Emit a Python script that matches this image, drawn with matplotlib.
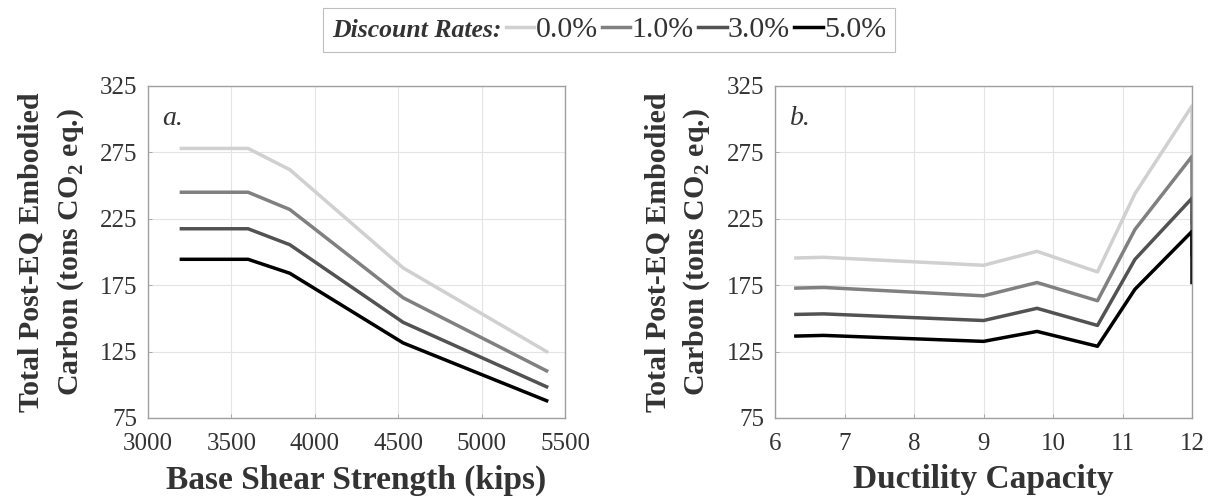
import matplotlib
matplotlib.use("Agg")
import matplotlib.pyplot as plt
from matplotlib.lines import Line2D

plt.rcParams['font.family'] = ['Liberation Serif', 'DejaVu Serif']
plt.rcParams['mathtext.fontset'] = 'custom'
plt.rcParams['mathtext.rm'] = 'Liberation Serif'
plt.rcParams['mathtext.bf'] = 'Liberation Serif:bold'

rates = ["0.0%", "1.0%", "3.0%", "5.0%"]
colors = ["#d0d0d0", "#808080", "#525252", "#000000"]

# Panel a: base shear strength (kips)
shear = [3200, 3600, 3850, 4530, 5390]
carbon_a = {
    "0.0%": [278, 278, 262, 188, 125],
    "1.0%": [245, 245, 232, 165.5, 110.5],
    "3.0%": [217.5, 217.5, 205.5, 147, 98.5],
    "5.0%": [194.5, 194.5, 184, 131.5, 88],
}

# Panel b: ductility capacity
ductility = [6.3, 6.7, 9.0, 9.77, 10.64, 11.18, 12.0, 12.0]
carbon_b = {
    "0.0%": [195.5, 196, 190, 200.5, 185, 244, 310, 253],
    "1.0%": [172.8, 173.3, 167, 177, 163.3, 217, 272, 222],
    "3.0%": [153, 153.4, 148.4, 157.6, 144.7, 194.5, 240.5, 198],
    "5.0%": [136.7, 137.2, 132.7, 140.2, 129, 172, 215.5, 177],
}

fig = plt.figure(figsize=(12.13, 5.0), dpi=100)
ax1 = fig.add_axes([148/1213, 82/500, 417/1213, 332/500])
ax2 = fig.add_axes([775/1213, 82/500, 417/1213, 332/500])

ylabel = "Total Post-EQ Embodied\nCarbon (tons CO$_\\mathbf{2}$ eq.)"

def style(ax, xticks, xlim, xlabel, tag):
    ax.set_xlim(*xlim)
    ax.set_ylim(75, 325)
    ax.set_xticks(xticks)
    ax.set_yticks([75, 125, 175, 225, 275, 325])
    ax.grid(True, color="#e4e4e4", linewidth=0.8)
    ax.set_axisbelow(True)
    for s in ax.spines.values():
        s.set_color("#a0a0a0")
        s.set_linewidth(1.0)
    ax.tick_params(direction="in", length=3, width=0.6, color="#a0a0a0",
                   labelsize=18, labelcolor="#333333", pad=10.5)
    ax.tick_params(axis="y", pad=8)
    ax.set_xlabel(xlabel, fontsize=24, fontweight="bold", color="#333333", labelpad=7)
    ax.set_ylabel(ylabel, fontsize=21.5, fontweight="bold", color="#333333",
                  linespacing=1.45, labelpad=10)
    ax.text(0.035, 0.94, tag, transform=ax.transAxes, fontsize=20,
            style="italic", color="#333333", va="top", ha="left")

for r, c in zip(rates, colors):
    ax1.plot(shear, carbon_a[r], color=c, linewidth=2.5)
    ax2.plot(ductility, carbon_b[r], color=c, linewidth=2.5)

style(ax1, [3000, 3500, 4000, 4500, 5000, 5500], (3000, 5500),
      "Base Shear Strength (kips)", "a.")
style(ax2, [6, 7, 8, 9, 10, 11, 12], (6, 12), "Ductility Capacity", "b.")

handles = [Line2D([], [], color="none")] + [Line2D([], [], color=c, linewidth=2.5) for c in colors]
labels = ["Discount Rates:"] + rates
leg = fig.legend(handles, labels, loc="center", bbox_to_anchor=(609/1213, 1 - 30/500),
                 ncol=5, fontsize=21.5, frameon=True, fancybox=False,
                 edgecolor="#b0b0b0", handlelength=0.95, handletextpad=0.04,
                 columnspacing=0.15, borderpad=0.3)
leg.get_frame().set_linewidth(0.8)
t0 = leg.get_texts()[0]
t0.set_fontweight("bold")
t0.set_fontstyle("italic")
t0.set_fontsize(18.5)
for t in leg.get_texts():
    t.set_color("#333333")
# drop the empty handle slot in front of the "Discount Rates:" title entry
try:
    first_item = leg._legend_handle_box.get_children()[0].get_children()[0]
    kids = first_item.get_children()
    if len(kids) == 2:
        del kids[0]
except Exception:
    pass

fig.savefig("out.png", dpi=100, facecolor="white")
